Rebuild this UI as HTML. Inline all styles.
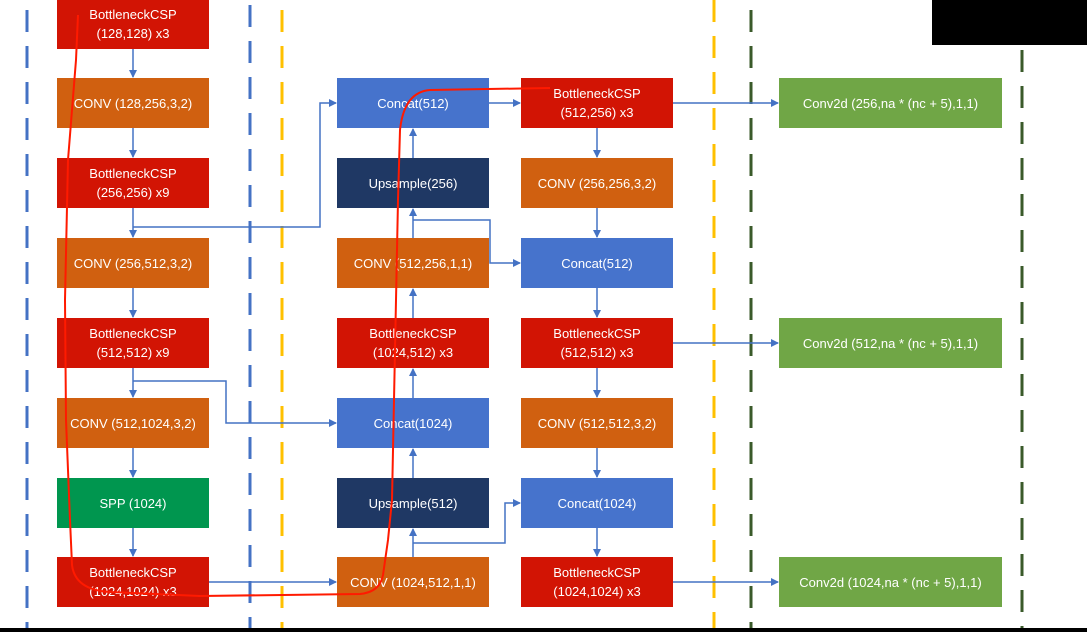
<!DOCTYPE html>
<html><head><meta charset="utf-8"><style>
body{margin:0;width:1087px;height:632px;overflow:hidden;background:#fff;font-family:"Liberation Sans",sans-serif}
.b{position:absolute;color:#fff;font-size:13px;display:flex;align-items:center;justify-content:center;text-align:center;line-height:19px;height:50px}
.r{background:#d21404}.o{background:#d06010}.bl{background:#4673cc}.n{background:#1f3864}.g{background:#00964f}.gr{background:#70a646}
.c1{left:57px;width:152px}.c2{left:337px;width:152px}.c3{left:521px;width:152px}.c4{left:779px;width:223px}
</style></head><body>
<svg width="1087" height="632" style="position:absolute;left:0;top:0">
<defs><marker id="a" markerWidth="8" markerHeight="8" refX="7" refY="4" orient="auto" markerUnits="userSpaceOnUse"><path d="M0,0L8,4L0,8z" fill="#4472c4"/></marker></defs>
<g stroke-width="3" stroke-dasharray="22,14" fill="none">
<line x1="27" y1="10" x2="27" y2="632" stroke="#4472c4"/>
<line x1="250" y1="5" x2="250" y2="632" stroke="#4472c4"/>
<line x1="282" y1="10" x2="282" y2="632" stroke="#ffc000"/>
<line x1="714" y1="0" x2="714" y2="632" stroke="#ffc000"/>
<line x1="751" y1="10" x2="751" y2="632" stroke="#3a5a2a"/>
<line x1="1022" y1="50" x2="1022" y2="632" stroke="#3a5a2a"/>
</g>
<g stroke="#4472c4" stroke-width="1.5" fill="none" marker-end="url(#a)">
<line x1="133" y1="49" x2="133" y2="77"/><line x1="133" y1="128" x2="133" y2="157"/>
<line x1="133" y1="208" x2="133" y2="237"/><line x1="133" y1="288" x2="133" y2="317"/>
<line x1="133" y1="368" x2="133" y2="397"/><line x1="133" y1="448" x2="133" y2="477"/>
<line x1="133" y1="528" x2="133" y2="556"/>
<polyline points="133,227 320,227 320,103 336,103"/>
<polyline points="133,381 226,381 226,423 336,423"/>
<line x1="209" y1="582" x2="336" y2="582"/>
<line x1="413" y1="557" x2="413" y2="529"/><line x1="413" y1="478" x2="413" y2="449"/>
<line x1="413" y1="398" x2="413" y2="369"/><line x1="413" y1="318" x2="413" y2="289"/>
<line x1="413" y1="238" x2="413" y2="209"/><line x1="413" y1="158" x2="413" y2="129"/>
<polyline points="413,220 490,220 490,263 520,263"/>
<polyline points="413,543 505,543 505,503 520,503"/>
<line x1="489" y1="103" x2="520" y2="103"/>
<line x1="597" y1="128" x2="597" y2="157"/><line x1="597" y1="208" x2="597" y2="237"/>
<line x1="597" y1="288" x2="597" y2="317"/><line x1="597" y1="368" x2="597" y2="397"/>
<line x1="597" y1="448" x2="597" y2="477"/><line x1="597" y1="528" x2="597" y2="556"/>
<line x1="673" y1="103" x2="778" y2="103"/><line x1="673" y1="343" x2="778" y2="343"/>
<line x1="673" y1="582" x2="778" y2="582"/>
</g>
</svg>
<div class="b r c1" style="top:-1px">BottleneckCSP<br>(128,128) x3</div>
<div class="b o c1" style="top:78px">CONV (128,256,3,2)</div>
<div class="b r c1" style="top:158px">BottleneckCSP<br>(256,256) x9</div>
<div class="b o c1" style="top:238px">CONV (256,512,3,2)</div>
<div class="b r c1" style="top:318px">BottleneckCSP<br>(512,512) x9</div>
<div class="b o c1" style="top:398px">CONV (512,1024,3,2)</div>
<div class="b g c1" style="top:478px">SPP (1024)</div>
<div class="b r c1" style="top:557px">BottleneckCSP<br>(1024,1024) x3</div>
<div class="b bl c2" style="top:78px">Concat(512)</div>
<div class="b n c2" style="top:158px">Upsample(256)</div>
<div class="b o c2" style="top:238px">CONV (512,256,1,1)</div>
<div class="b r c2" style="top:318px">BottleneckCSP<br>(1024,512) x3</div>
<div class="b bl c2" style="top:398px">Concat(1024)</div>
<div class="b n c2" style="top:478px">Upsample(512)</div>
<div class="b o c2" style="top:557px">CONV (1024,512,1,1)</div>
<div class="b r c3" style="top:78px">BottleneckCSP<br>(512,256) x3</div>
<div class="b o c3" style="top:158px">CONV (256,256,3,2)</div>
<div class="b bl c3" style="top:238px">Concat(512)</div>
<div class="b r c3" style="top:318px">BottleneckCSP<br>(512,512) x3</div>
<div class="b o c3" style="top:398px">CONV (512,512,3,2)</div>
<div class="b bl c3" style="top:478px">Concat(1024)</div>
<div class="b r c3" style="top:557px">BottleneckCSP<br>(1024,1024) x3</div>
<div class="b gr c4" style="top:78px">Conv2d (256,na * (nc + 5),1,1)</div>
<div class="b gr c4" style="top:318px">Conv2d (512,na * (nc + 5),1,1)</div>
<div class="b gr c4" style="top:557px">Conv2d (1024,na * (nc + 5),1,1)</div>
<svg width="1087" height="632" style="position:absolute;left:0;top:0">
<path d="M78,15 L76,60 L68,160 L65,300 L66,420 L70,520 L72,565 Q75,590 110,592 L200,596 L360,594 Q380,592 383,575 L388,540 L392,500 L394,400 L396,300 L398,200 L400,130 Q404,92 430,90 L550,88" stroke="#ff1a00" stroke-width="2" fill="none"/>
<rect x="932" y="0" width="155" height="45" fill="#000"/>
<rect x="0" y="628" width="1087" height="4" fill="#000"/>
</svg>
</body></html>
